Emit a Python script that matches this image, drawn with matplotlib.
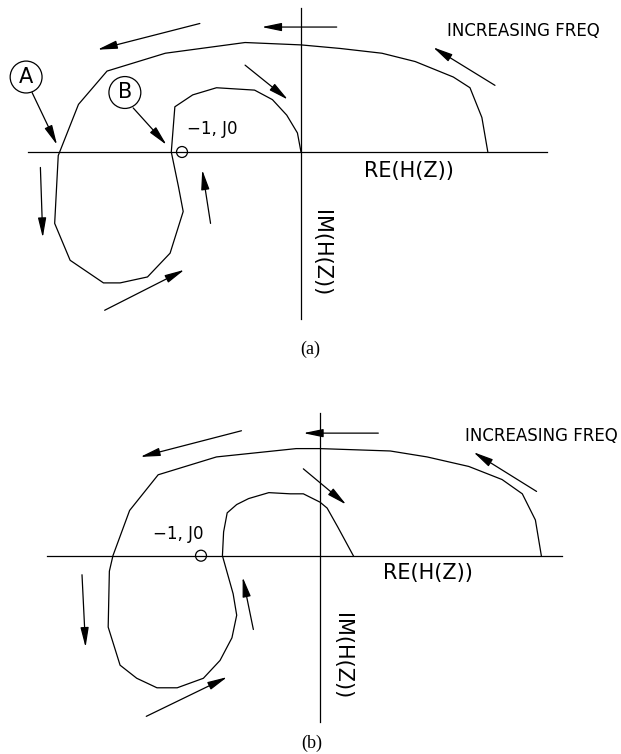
import matplotlib
matplotlib.use("Agg")
import matplotlib.pyplot as plt
from matplotlib.patches import Circle

plt.rcParams['font.family'] = ['DejaVu Sans']

# Nyquist locus, panel (a): real and imaginary parts of H(z)
re_a = [1.57, 1.52, 1.42, 1.28, 0.96, 0.68, 0.33, 0.00, -0.47, -1.14, -1.63, -1.87,
        -2.04, -2.07, -1.94, -1.66, -1.52, -1.29, -1.10, -0.99, -1.03, -1.09, -1.06,
        -0.91, -0.71, -0.39, -0.24, -0.12, -0.03, 0.00]
im_a = [0.00, 0.29, 0.54, 0.63, 0.76, 0.83, 0.87, 0.90, 0.92, 0.83, 0.68, 0.40,
        -0.03, -0.60, -0.91, -1.10, -1.10, -1.05, -0.85, -0.50, -0.29, 0.00, 0.38,
        0.48, 0.54, 0.52, 0.44, 0.31, 0.16, 0.00]

# Nyquist locus, panel (b)
re_b = [1.86, 1.81, 1.70, 1.53, 1.25, 0.90, 0.59, 0.00, -0.20, -0.87, -1.36, -1.60,
        -1.74, -1.77, -1.78, -1.68, -1.54, -1.37, -1.20, -0.98, -0.84, -0.74, -0.70,
        -0.73, -0.82, -0.81, -0.78, -0.70, -0.60, -0.43, -0.25, -0.14, 0.00, 0.06,
        0.15, 0.28]
im_b = [0.00, 0.30, 0.52, 0.64, 0.75, 0.83, 0.88, 0.90, 0.90, 0.83, 0.68, 0.38,
        0.00, -0.13, -0.60, -0.92, -1.03, -1.11, -1.11, -1.03, -0.88, -0.69, -0.50,
        -0.32, 0.00, 0.20, 0.36, 0.43, 0.48, 0.53, 0.52, 0.52, 0.45, 0.40, 0.24, 0.00]

# direction arrows: (tail_re, tail_im, head_re, head_im)
arrows_a = [(0.30, 1.05, -0.33, 1.05), (-0.85, 1.08, -1.71, 0.86),
            (1.63, 0.56, 1.11, 0.88), (-0.47, 0.73, -0.11, 0.44),
            (-2.26, 0.50, -2.05, 0.06), (-1.41, 0.37, -1.13, 0.06),
            (-2.19, -0.13, -2.17, -0.72), (-0.76, -0.60, -0.83, -0.15),
            (-1.65, -1.33, -0.98, -0.99)]
arrows_b = [(0.49, 1.03, -0.14, 1.03), (-0.66, 1.05, -1.51, 0.83),
            (1.82, 0.54, 1.29, 0.87), (-0.14, 0.73, 0.22, 0.43),
            (-2.00, -0.16, -1.97, -0.77), (-0.56, -0.62, -0.65, -0.18),
            (-1.46, -1.35, -0.78, -1.02)]

# axis extents: (re_min, re_max, im_top, im_bottom)
axes_a = (-2.29, 2.07, 1.21, -1.40)
axes_b = (-2.29, 2.03, 1.20, -1.40)

# labelled points for panel (a): (label, re, im)
markers_a = [("A", -2.31, 0.63), ("B", -1.48, 0.50)]

critical_point = (-1.0, 0.0)

W, H = 621, 754
fig = plt.figure(figsize=(W / 100, H / 100), dpi=100)
UNIT = 119.0  # pixels per unit of H(z)


def make_axes(origin_px, top_px, bottom_px):
    ox, oy = origin_px
    ax = fig.add_axes([0, 1 - bottom_px / H, 1, (bottom_px - top_px) / H])
    ax.set_xlim(-ox / UNIT, (W - ox) / UNIT)
    ax.set_ylim((oy - bottom_px) / UNIT, (oy - top_px) / UNIT)
    ax.set_aspect('equal', adjustable='box')
    ax.axis('off')
    return ax


def draw_panel(ax, re, im, arrows, extents, pt_label_xy, re_lab_xy, im_lab_xy, freq_xy):
    lw = 0.9
    x0, x1, y0, y1 = extents
    ax.plot([x0, x1], [0, 0], color='black', lw=lw)
    ax.plot([0, 0], [y0, y1], color='black', lw=lw)
    ax.plot(re, im, color='black', lw=lw)
    for tx, ty, hx, hy in arrows:
        ax.annotate('', xy=(hx, hy), xytext=(tx, ty),
                    arrowprops=dict(arrowstyle='-|>,head_length=1.2,head_width=0.25',
                                    lw=lw, color='black', shrinkA=0, shrinkB=0,
                                    mutation_scale=10))
    ax.add_patch(Circle(critical_point, 0.046, fill=False, lw=lw, color='black'))
    ax.text(*pt_label_xy, "\u22121, J0", fontsize=12, ha='left', va='center')
    ax.text(*re_lab_xy, "RE(H(Z))", fontsize=15, ha='center', va='center')
    ax.text(*im_lab_xy, "IM(H(Z))", fontsize=15, ha='center', va='center', rotation=-90)
    ax.text(*freq_xy, "INCREASING FREQ", fontsize=12, ha='center', va='center')


ax_a = make_axes((301, 152), 0, 330)
draw_panel(ax_a, re_a, im_a, arrows_a, axes_a,
           (-0.96, 0.19), (0.91, -0.16), (0.17, -0.85), (1.87, 1.02))
for lab, cx, cy in markers_a:
    ax_a.add_patch(Circle((cx, cy), 0.134, fill=False, lw=0.9, color='black'))
    ax_a.text(cx, cy, lab, fontsize=15, ha='center', va='center')

ax_b = make_axes((320, 555.7), 380, 730)
draw_panel(ax_b, re_b, im_b, arrows_b, axes_b,
           (-1.40, 0.18), (0.91, -0.145), (0.185, -0.84), (1.86, 1.01))

fig.text(310 / W, 1 - 349 / H, "(a)", fontsize=13, family='Liberation Serif',
         ha='center', va='center')
fig.text(312 / W, 1 - 743 / H, "(b)", fontsize=13, family='Liberation Serif',
         ha='center', va='center')

fig.savefig("out.png", dpi=100, facecolor='white')
